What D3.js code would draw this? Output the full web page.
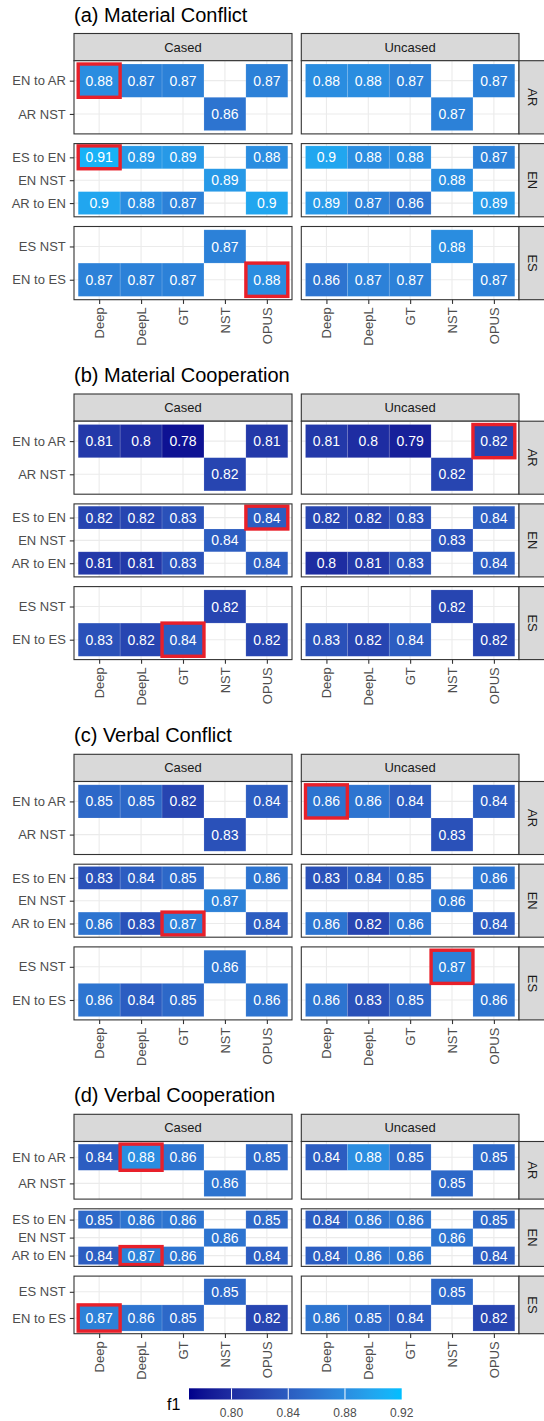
<!DOCTYPE html>
<html>
<head>
<meta charset="utf-8">
<script src="https://cdn.jsdelivr.net/npm/d3@7"></script>
<style>
  html, body { margin: 0; padding: 0; background: #ffffff; }
  svg { display: block; font-family: "Liberation Sans", Arial, Helvetica, sans-serif; }
</style>
</head>
<body>
<svg id="chart" width="544" height="1421"></svg>
<script>
// ---------------- DATA ----------------
const facetTitles = ["(a) Material Conflict", "(b) Material Cooperation", "(c) Verbal Conflict", "(d) Verbal Cooperation"];
const casings = ["Cased", "Uncased"];
const languages = ["AR", "EN", "ES"];
const arRows = ["EN to AR", "AR NST"];
const enRows = ["ES to EN", "EN NST", "AR to EN"];
const esRows = ["ES NST", "EN to ES"];
const systems = ["Deep", "DeepL", "GT", "NST", "OPUS"];
// row order of the value tables below
const rowOrder = ["EN to AR", "AR NST", "ES to EN", "EN NST", "AR to EN", "ES NST", "EN to ES"];

// values per row: [Deep, DeepL, GT, NST, OPUS]
const materialConflictCased = [
  [0.88, 0.87, 0.87, null, 0.87],
  [null, null, null, 0.86, null],
  [0.91, 0.89, 0.89, null, 0.88],
  [null, null, null, 0.89, null],
  [0.9, 0.88, 0.87, null, 0.9],
  [null, null, null, 0.87, null],
  [0.87, 0.87, 0.87, null, 0.88]
];
const materialConflictUncased = [
  [0.88, 0.88, 0.87, null, 0.87],
  [null, null, null, 0.87, null],
  [0.9, 0.88, 0.88, null, 0.87],
  [null, null, null, 0.88, null],
  [0.89, 0.87, 0.86, null, 0.89],
  [null, null, null, 0.88, null],
  [0.86, 0.87, 0.87, null, 0.87]
];
const materialCoopCased = [
  [0.81, 0.8, 0.78, null, 0.81],
  [null, null, null, 0.82, null],
  [0.82, 0.82, 0.83, null, 0.84],
  [null, null, null, 0.84, null],
  [0.81, 0.81, 0.83, null, 0.84],
  [null, null, null, 0.82, null],
  [0.83, 0.82, 0.84, null, 0.82]
];
const materialCoopUncased = [
  [0.81, 0.8, 0.79, null, 0.82],
  [null, null, null, 0.82, null],
  [0.82, 0.82, 0.83, null, 0.84],
  [null, null, null, 0.83, null],
  [0.8, 0.81, 0.83, null, 0.84],
  [null, null, null, 0.82, null],
  [0.83, 0.82, 0.84, null, 0.82]
];
const verbalConflictCased = [
  [0.85, 0.85, 0.82, null, 0.84],
  [null, null, null, 0.83, null],
  [0.83, 0.84, 0.85, null, 0.86],
  [null, null, null, 0.87, null],
  [0.86, 0.83, 0.87, null, 0.84],
  [null, null, null, 0.86, null],
  [0.86, 0.84, 0.85, null, 0.86]
];
const verbalConflictUncased = [
  [0.86, 0.86, 0.84, null, 0.84],
  [null, null, null, 0.83, null],
  [0.83, 0.84, 0.85, null, 0.86],
  [null, null, null, 0.86, null],
  [0.86, 0.82, 0.86, null, 0.84],
  [null, null, null, 0.87, null],
  [0.86, 0.83, 0.85, null, 0.86]
];
const verbalCoopCased = [
  [0.84, 0.88, 0.86, null, 0.85],
  [null, null, null, 0.86, null],
  [0.85, 0.86, 0.86, null, 0.85],
  [null, null, null, 0.86, null],
  [0.84, 0.87, 0.86, null, 0.84],
  [null, null, null, 0.85, null],
  [0.87, 0.86, 0.85, null, 0.82]
];
const verbalCoopUncased = [
  [0.84, 0.88, 0.85, null, 0.85],
  [null, null, null, 0.85, null],
  [0.84, 0.86, 0.86, null, 0.85],
  [null, null, null, 0.86, null],
  [0.84, 0.86, 0.86, null, 0.84],
  [null, null, null, 0.85, null],
  [0.86, 0.85, 0.84, null, 0.82]
];
// best cells outlined in red: [facet, casing, row, system]
const highlights = [
  [0, "Cased", "EN to AR", "Deep"],
  [0, "Cased", "ES to EN", "Deep"],
  [0, "Cased", "EN to ES", "OPUS"],
  [1, "Uncased", "EN to AR", "OPUS"],
  [1, "Cased", "ES to EN", "OPUS"],
  [1, "Cased", "EN to ES", "GT"],
  [2, "Uncased", "EN to AR", "Deep"],
  [2, "Cased", "AR to EN", "GT"],
  [2, "Uncased", "ES NST", "NST"],
  [3, "Cased", "EN to AR", "DeepL"],
  [3, "Cased", "AR to EN", "DeepL"],
  [3, "Cased", "EN to ES", "Deep"]
];
const legendTitle = "f1";
const legendBreaks = [0.80, 0.84, 0.88, 0.92];
const colorLimits = [0.77, 0.92];

// ---------------- BUILD TABLE ----------------
const tables = [
  [materialConflictCased, materialConflictUncased],
  [materialCoopCased, materialCoopUncased],
  [verbalConflictCased, verbalConflictUncased],
  [verbalCoopCased, verbalCoopUncased]
];
const langRows = { AR: arRows, EN: enRows, ES: esRows };
const langOfRow = r => languages.find(l => langRows[l].includes(r));
const records = [];
tables.forEach((pair, fi) => pair.forEach((tbl, ci) => tbl.forEach((vals, ri) => vals.forEach((v, si) => {
  if (v == null) return;
  const row = rowOrder[ri], sys = systems[si], cas = casings[ci];
  records.push({
    facet: fi, casing: cas, lang: langOfRow(row), row, system: sys, value: v,
    best: highlights.some(h => h[0] === fi && h[1] === cas && h[2] === row && h[3] === sys)
  });
}))));

// ---------------- LAYOUT ----------------
const svg = d3.select("#chart");
const color = d3.scaleLinear().domain(colorLimits).range(["#00008B", "#00BFFF"]).interpolate(d3.interpolateLab);

const colX = { Cased: [74, 292], Uncased: [301.3, 519] };
const stripH = 27.2;
const gapY = 9.7;
const facetTop = [33.5, 394, 754.3, 1114.3];
const panelH = [73.2, 73, 73, 57.6];

const axisCol = "#333333", textCol = "#4D4D4D";

facetTitles.forEach((title, fi) => {
  const top = facetTop[fi];
  const g = svg.append("g");
  g.append("text").attr("x", 74).attr("y", top - 12)
    .attr("font-size", 20).attr("fill", "#000").text(title);

  casings.forEach(cas => {
    const [x0, x1] = colX[cas];
    const x = d3.scalePoint().domain(systems).range([x0, x1]).padding(0.6);
    const tw = x.step();
    // top strip
    g.append("rect").attr("x", x0).attr("y", top).attr("width", x1 - x0).attr("height", stripH)
      .attr("fill", "#D9D9D9").attr("stroke", axisCol).attr("stroke-width", 1.1);
    g.append("text").attr("x", (x0 + x1) / 2).attr("y", top + stripH / 2).attr("dy", "0.35em")
      .attr("text-anchor", "middle").attr("font-size", 13).attr("fill", "#1A1A1A").text(cas);

    languages.forEach((lang, li) => {
      const py0 = top + stripH + li * (panelH[fi] + gapY);
      const py1 = py0 + panelH[fi];
      const y = d3.scalePoint().domain(langRows[lang]).range([py0, py1]).padding(0.6);
      const th = y.step();
      const p = g.append("g");
      p.append("rect").attr("x", x0).attr("y", py0).attr("width", x1 - x0).attr("height", py1 - py0).attr("fill", "#fff");
      // grid
      p.selectAll(".gx").data(systems).join("line")
        .attr("x1", d => x(d)).attr("x2", d => x(d)).attr("y1", py0).attr("y2", py1)
        .attr("stroke", "#EBEBEB").attr("stroke-width", 1.1);
      p.selectAll(".gy").data(langRows[lang]).join("line")
        .attr("y1", d => y(d)).attr("y2", d => y(d)).attr("x1", x0).attr("x2", x1)
        .attr("stroke", "#EBEBEB").attr("stroke-width", 1.1);
      const recs = records.filter(r => r.facet === fi && r.casing === cas && r.lang === lang);
      p.selectAll(".tile").data(recs).join("rect")
        .attr("x", d => x(d.system) - tw / 2).attr("y", d => y(d.row) - th / 2)
        .attr("width", tw).attr("height", th)
        .attr("fill", d => color(d.value))
        .attr("stroke", "#ffffff").attr("stroke-opacity", 0.22).attr("stroke-width", 0.6);
      p.selectAll(".lab").data(recs).join("text")
        .attr("x", d => x(d.system)).attr("y", d => y(d.row)).attr("dy", "0.36em")
        .attr("text-anchor", "middle").attr("font-size", 14).attr("fill", "#fff")
        .text(d => String(d.value));
      p.selectAll(".best").data(recs.filter(d => d.best)).join("rect")
        .attr("x", d => x(d.system) - tw / 2).attr("y", d => y(d.row) - th / 2)
        .attr("width", tw).attr("height", th)
        .attr("fill", "none").attr("stroke", "#E8202A").attr("stroke-width", 3.4);
      p.append("rect").attr("x", x0).attr("y", py0).attr("width", x1 - x0).attr("height", py1 - py0)
        .attr("fill", "none").attr("stroke", axisCol).attr("stroke-width", 1.1);

      if (cas === "Cased") {
        const ay = g.append("g").attr("transform", `translate(${x0},0)`)
          .call(d3.axisLeft(y).tickSize(4.2).tickPadding(4));
        ay.select(".domain").remove();
        ay.selectAll("line").attr("stroke", axisCol).attr("stroke-width", 1.1);
        ay.selectAll("text").attr("font-size", 13).attr("fill", textCol).attr("font-family", null);
      } else {
        // right strip
        g.append("rect").attr("x", x1).attr("y", py0).attr("width", stripH).attr("height", py1 - py0)
          .attr("fill", "#D9D9D9").attr("stroke", axisCol).attr("stroke-width", 1.1);
        g.append("text").attr("transform", `translate(${x1 + stripH / 2},${(py0 + py1) / 2}) rotate(90)`)
          .attr("dy", "0.35em").attr("text-anchor", "middle").attr("font-size", 13).attr("fill", "#1A1A1A").text(lang);
      }
      if (li === languages.length - 1) {
        const ax = g.append("g").attr("transform", `translate(0,${py1})`)
          .call(d3.axisBottom(x).tickSize(4.2).tickPadding(3.5));
        ax.select(".domain").remove();
        ax.selectAll("line").attr("stroke", axisCol).attr("stroke-width", 1.1);
        ax.selectAll("text")
          .attr("font-size", 13).attr("fill", textCol).attr("font-family", null)
          .attr("text-anchor", "end")
          .attr("transform", "rotate(-90)")
          .attr("x", -7.7).attr("y", 0).attr("dy", "0.35em");
      }
    });
  });
});

// ---------------- LEGEND ----------------
const lx = d3.scaleLinear().domain(colorLimits).range([189, 401.7]);
const barY = 1388.3, barH = 11.2;
const defs = svg.append("defs");
const grad = defs.append("linearGradient").attr("id", "f1grad").attr("x1", "0%").attr("x2", "100%");
d3.range(0, 1.0001, 0.05).forEach(t => {
  grad.append("stop").attr("offset", `${t * 100}%`).attr("stop-color", color(colorLimits[0] + t * (colorLimits[1] - colorLimits[0])));
});
svg.append("rect").attr("x", lx(colorLimits[0])).attr("y", barY)
  .attr("width", lx(colorLimits[1]) - lx(colorLimits[0])).attr("height", barH).attr("fill", "url(#f1grad)");
svg.selectAll(".ltick").data(legendBreaks.filter(b => b < colorLimits[1])).join("line")
  .attr("x1", d => lx(d)).attr("x2", d => lx(d)).attr("y1", barY).attr("y2", barY + barH)
  .attr("stroke", "#fff").attr("stroke-width", 1);
svg.selectAll(".llab").data(legendBreaks).join("text")
  .attr("x", d => lx(d)).attr("y", 1417.3).attr("text-anchor", "middle")
  .attr("font-size", 12).attr("fill", textCol).text(d => d3.format(".2f")(d));
svg.append("text").attr("x", 167).attr("y", 1410).attr("font-size", 16).attr("fill", "#000").text(legendTitle);
</script>
</body>
</html>
